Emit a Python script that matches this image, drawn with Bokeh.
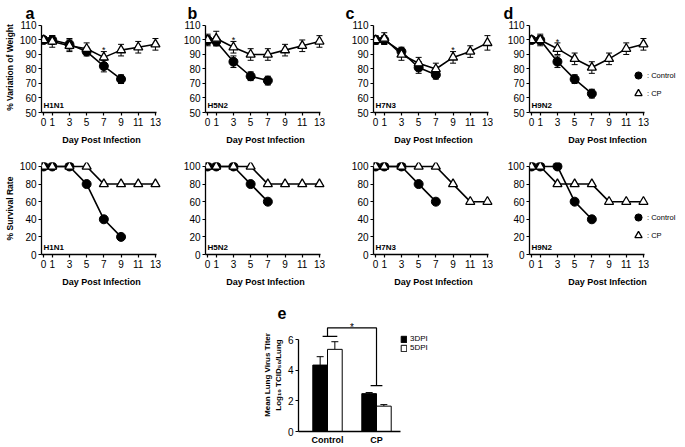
from bokeh.plotting import figure
from bokeh.layouts import column, row, Spacer
from bokeh.models import (ColumnDataSource, Whisker, TeeHead, Legend, LegendItem,
                          Label, Range1d, FixedTicker)
from bokeh.embed import file_html
from bokeh.resources import INLINE
from bokeh.core.properties import value

FONT = "Liberation Sans"
INK = "#000000"

# ---------------- data ----------------
letters = ["a", "b", "c", "d"]
strains = ["H1N1", "H5N2", "H7N3", "H9N2"]
cp_days = [0, 1, 3, 5, 7, 9, 11, 13]
ctrl_days = [[0, 1, 3, 5, 7, 9], [0, 1, 3, 5, 7], [0, 1, 3, 5, 7], [0, 1, 3, 5, 7]]

ctrl_weight = [[100, 100, 97, 92, 82, 73], [100, 99, 85, 75, 72],
               [100, 100, 92, 81, 76], [100, 100, 85, 73, 63]]
ctrl_weight_err = [[2, 3, 4, 3, 4, 3], [3, 3, 4, 3, 3], [3, 3, 3, 4, 3], [2, 3, 4, 3, 3]]
cp_weight = [[100, 99, 96, 94, 88, 93, 95, 97], [100, 101, 95, 90, 90, 93, 96, 99],
             [100, 101, 90, 84, 80, 88, 92, 98], [100, 100, 94, 87, 81, 87, 94, 97]]
cp_weight_err = [[2, 4, 4, 4, 4, 4, 4, 4], [4, 5, 4, 4, 4, 4, 4, 4],
                 [2, 4, 4, 4, 4, 4, 4, 5], [2, 4, 4, 4, 4, 4, 4, 4]]
sig_day = [7, 3, 9, 3]

ctrl_surv = [[100, 100, 100, 80, 40, 20], [100, 100, 100, 80, 60],
             [100, 100, 100, 80, 60], [100, 100, 100, 60, 40]]
cp_surv = [[100, 100, 100, 100, 80, 80, 80, 80], [100, 100, 100, 100, 80, 80, 80, 80],
           [100, 100, 100, 100, 100, 80, 60, 60], [100, 100, 80, 80, 80, 60, 60, 60]]

weight_ticks = [50, 60, 70, 80, 90, 100, 110]
surv_ticks = [0, 20, 40, 60, 80, 100]

titer_groups = ["Control", "CP"]
titer_3dpi = [4.35, 2.48]
titer_3dpi_err = [0.55, 0.07]
titer_5dpi = [5.38, 1.66]
titer_5dpi_err = [0.5, 0.1]
titer_ticks = [0, 2, 4, 6]

# ---------------- layout constants ----------------
PX = 8.6
X0 = -0.25
lefts = [41, 44, 48, 36]
frame_w = [120, 120, 120, 156]
title_offsets = [-16, -18, -28, -26]


def style_axes(p):
    for ax in p.axis:
        ax.axis_line_width = 1.3
        ax.axis_line_color = INK
        ax.major_tick_line_color = INK
        ax.major_tick_line_width = 1.2
        ax.major_tick_out = 3
        ax.major_tick_in = 0
        ax.minor_tick_line_color = None
        ax.major_label_text_font = FONT
        ax.major_label_text_font_size = "10px"
        ax.major_label_text_color = INK
        ax.major_label_standoff = 2
        ax.axis_label_text_font = FONT
        ax.axis_label_text_font_style = "bold"
        ax.axis_label_text_font_size = "9px"
        ax.axis_label_text_color = INK
        ax.axis_label_standoff = 2
    p.grid.visible = False
    p.outline_line_color = None


def make_panel(i, kind):
    fw = frame_w[i]
    x1 = X0 + fw / PX
    if kind == "weight":
        yr = Range1d(50, 112.05)
        height, top, bottom = 147, 22, 34
    else:
        yr = Range1d(0, 104.5)
        height, top, bottom = 142, 15, 32
    p = figure(width=lefts[i] + fw, height=height,
               x_range=Range1d(X0, x1), y_range=yr,
               output_backend="svg", toolbar_location=None,
               min_border_left=lefts[i], min_border_right=0,
               min_border_top=top, min_border_bottom=bottom,
               title=letters[i] if kind == "weight" else None)
    style_axes(p)
    p.xaxis.axis_label_standoff = 6
    if kind == "weight":
        p.title.text_font = FONT
        p.title.text_font_size = "16px"
        p.title.text_font_style = "bold"
        p.title.text_color = INK
        p.title.offset = title_offsets[i]
        p.title.standoff = 1
        p.yaxis.ticker = FixedTicker(ticks=weight_ticks)
        p.yaxis.bounds = (50, 110)
        if i == 0:
            p.yaxis.axis_label = "% Variation of Weight"
            p.yaxis.axis_label_text_font_size = "8.5px"
    else:
        p.yaxis.ticker = FixedTicker(ticks=surv_ticks)
        p.yaxis.bounds = (0, 100)
        if i == 0:
            p.yaxis.axis_label = "% Survival Rate"
            p.yaxis.axis_label_text_font_size = "8.5px"
    p.xaxis.ticker = FixedTicker(ticks=cp_days)
    p.xaxis.bounds = (X0, 13.15)
    p.xaxis.axis_label = "Day Post Infection"

    if kind == "weight":
        cy, cyerr = ctrl_weight[i], ctrl_weight_err[i]
        ty, tyerr = cp_weight[i], cp_weight_err[i]
    else:
        cy, cyerr = ctrl_surv[i], None
        ty, tyerr = cp_surv[i], None

    sc = dict(x=ctrl_days[i], y=cy)
    st = dict(x=cp_days, y=ty)
    if cyerr is not None:
        sc["lo"] = [v - e for v, e in zip(cy, cyerr)]
        sc["hi"] = [v + e for v, e in zip(cy, cyerr)]
        st["lo"] = [v - e for v, e in zip(ty, tyerr)]
        st["hi"] = [v + e for v, e in zip(ty, tyerr)]
    src_c = ColumnDataSource(sc)
    src_t = ColumnDataSource(st)

    p.line("x", "y", source=src_c, line_color=INK, line_width=1.6)
    if cyerr is not None:
        p.add_layout(Whisker(base="x", lower="lo", upper="hi", source=src_c,
                             line_color=INK, line_width=1,
                             upper_head=TeeHead(size=6, line_width=1, line_color=INK),
                             lower_head=TeeHead(size=6, line_width=1, line_color=INK)))
    rc = p.scatter("x", "y", source=src_c, marker="circle", size=9,
                   fill_color=INK, line_color=INK)
    p.line("x", "y", source=src_t, line_color=INK, line_width=1.6)
    if tyerr is not None:
        p.add_layout(Whisker(base="x", lower="lo", upper="hi", source=src_t,
                             line_color=INK, line_width=1,
                             upper_head=TeeHead(size=6, line_width=1, line_color=INK),
                             lower_head=TeeHead(size=6, line_width=1, line_color=INK)))
    rt = p.scatter("x", "y", source=src_t, marker="triangle", size=9,
                   fill_color="white", line_color=INK, line_width=1.3)

    if kind == "weight":
        k = cp_days.index(sig_day[i])
        p.text(x=[sig_day[i]], y=[ty[k] + tyerr[k] + 0.8], text=["*"],
               text_font=value(FONT), text_font_size="9px", text_color=INK,
               text_align="center", text_baseline="alphabetic")

    p.add_layout(Label(x=2, y=3, x_units="screen", y_units="screen", text=strains[i],
                       text_font=FONT, text_font_size="8px", text_font_style="bold",
                       text_color=INK))

    if i == 3:
        leg = Legend(items=[LegendItem(label=": Control", renderers=[rc]),
                            LegendItem(label=": CP", renderers=[rt])],
                     location=(100, 10), glyph_width=18, glyph_height=18,
                     label_height=8, label_width=10, spacing=-4, padding=0, margin=0,
                     label_standoff=0, label_text_font=FONT, label_text_font_size="7.5px",
                     label_text_color=INK,
                     background_fill_alpha=0, border_line_color=None)
        p.add_layout(leg)
    return p


top_row = [make_panel(i, "weight") for i in range(4)]
mid_row = [make_panel(i, "survival") for i in range(4)]

# ---------------- panel e ----------------
E_X0 = -0.592
E_PX = 49.0
E_FW = 142
e = figure(width=40 + E_FW, height=158,
           x_range=Range1d(E_X0, E_X0 + E_FW / E_PX), y_range=Range1d(0, 7.4),
           output_backend="svg", toolbar_location=None,
           min_border_left=40, min_border_right=0, min_border_top=29, min_border_bottom=13,
           title="e")
style_axes(e)
e.title.text_font = FONT
e.title.text_font_size = "16px"
e.title.text_font_style = "bold"
e.title.text_color = INK
e.title.offset = -21
e.title.standoff = 0

gx = list(range(len(titer_groups)))
half = 0.15
src3 = ColumnDataSource(dict(x=[g - half for g in gx], top=titer_3dpi,
                             hi=[v + s for v, s in zip(titer_3dpi, titer_3dpi_err)]))
src5 = ColumnDataSource(dict(x=[g + half for g in gx], top=titer_5dpi,
                             hi=[v + s for v, s in zip(titer_5dpi, titer_5dpi_err)]))
e.add_layout(Whisker(base="x", lower="top", upper="hi", source=src3, line_color=INK,
                     line_width=1, upper_head=TeeHead(size=7, line_width=1), lower_head=None))
e.add_layout(Whisker(base="x", lower="top", upper="hi", source=src5, line_color=INK,
                     line_width=1, upper_head=TeeHead(size=7, line_width=1), lower_head=None))
r3 = e.vbar(x="x", top="top", width=2 * half, source=src3, fill_color=INK,
            line_color=INK, line_width=1)
r5 = e.vbar(x="x", top="top", width=2 * half, source=src5, fill_color="white",
            line_color=INK, line_width=1)

# significance bracket derived from the bar tops
y_l = max(titer_3dpi[0] + titer_3dpi_err[0], titer_5dpi[0] + titer_5dpi_err[0]) + 0.35
y_r = max(titer_3dpi[1] + titer_3dpi_err[1], titer_5dpi[1] + titer_5dpi_err[1]) + 0.45
y_t = y_l + 0.55
g0, g1 = gx
e.multi_line(xs=[[g0 - 0.1, g0 + 0.2], [g0, g0, g1, g1], [g1 - 0.12, g1 + 0.12]],
             ys=[[y_l, y_l], [y_l, y_t, y_t, y_r], [y_r, y_r]],
             line_color=INK, line_width=1.2)
e.text(x=[(g0 + g1) / 2], y=[y_t + 0.05], text=["*"], text_font=value(FONT),
       text_font_size="10px", text_color=INK, text_align="center",
       text_baseline="alphabetic")

e.yaxis.ticker = FixedTicker(ticks=titer_ticks)
e.yaxis.bounds = (0, 6)
e.yaxis.axis_label = "Mean Lung Virus Titer\nLog\u2081\u2080 TCID\u2085\u2080/Lung"
e.yaxis.axis_label_text_font_size = "8px"
e.xaxis.ticker = FixedTicker(ticks=gx)
e.xaxis.major_label_overrides = {g: name for g, name in zip(gx, titer_groups)}
e.xaxis.major_label_text_font_style = "bold"
e.xaxis.major_label_text_font_size = "9px"
e.xaxis.major_tick_out = 0
e.xaxis.major_label_standoff = 3
e.xaxis.bounds = (E_X0, 1.48)

leg_e = Legend(items=[LegendItem(label="3DPI", renderers=[r3]),
                      LegendItem(label="5DPI", renderers=[r5])],
               location=(102, 79), glyph_width=7, glyph_height=8, label_height=8,
               label_width=10, spacing=0, padding=0, margin=0, label_standoff=3,
               label_text_font=FONT, label_text_font_size="8px", label_text_color=INK,
               background_fill_alpha=0, border_line_color=None)
e.add_layout(leg_e)

layout = column(row(*top_row), row(*mid_row), row(Spacer(width=258, height=158), e))

open("out.html", "w").write(file_html(layout, INLINE))
